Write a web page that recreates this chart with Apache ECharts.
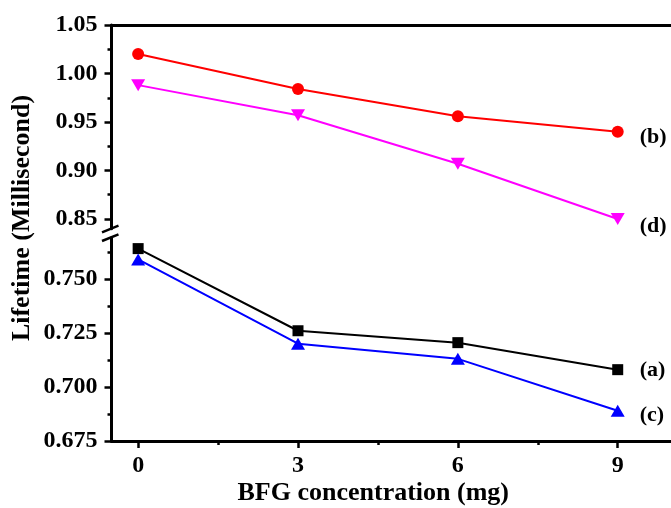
<!DOCTYPE html>
<html>
<head>
<meta charset="utf-8">
<script src="https://cdn.jsdelivr.net/npm/echarts@6/dist/echarts.min.js"></script>
<style>
  html, body { margin: 0; padding: 0; background: #fff; }
  #chart { width: 671px; height: 508px; }
</style>
</head>
<body>
<div id="chart"></div>
<script>
// BFG concentration (mg)
const concentration = [0, 3, 6, 9];
// lifetime (ms) per curve
const seriesA = [0.764, 0.726, 0.7205, 0.708];
const seriesB = [1.020, 0.984, 0.956, 0.940];
const seriesC = [0.759, 0.720, 0.713, 0.689];
const seriesD = [0.988, 0.957, 0.907, 0.850];

const xTicks = [0, 3, 6, 9];
const xMinor = [1.5, 4.5, 7.5];
const upperTicks = [0.85, 0.90, 0.95, 1.00, 1.05];
const upperMinor = [0.875, 0.925, 0.975, 1.025];
const lowerTicks = [0.675, 0.700, 0.725, 0.750];
const lowerMinor = [0.6875, 0.7125, 0.7375, 0.7625];

const FONT = '"Liberation Serif", "Times New Roman", serif';
const pts = arr => concentration.map((x, i) => [x, arr[i]]);

const chart = echarts.init(document.getElementById('chart'));

const axisLine = { show: true, onZero: false, lineStyle: { color: '#000', width: 3 } };
const tickLabel = { fontFamily: FONT, fontWeight: 'bold', fontSize: 24, color: '#000' };

function minorY(gridIndex, min, max, values) {
  return {
    type: 'value', gridIndex, position: 'left', min, max,
    axisLine: { show: false, onZero: false },
    axisTick: { show: true, customValues: values, length: 4, lineStyle: { color: '#000', width: 2.5 } },
    axisLabel: { show: false },
    splitLine: { show: false }
  };
}

function lineSeries(name, data, color, symbol, size, rotate, xi, yi, label, dy) {
  return {
    name, type: 'line', xAxisIndex: xi, yAxisIndex: yi,
    data: pts(data),
    symbol, symbolSize: size, symbolRotate: rotate,
    lineStyle: { color, width: 2 },
    itemStyle: { color },
    endLabel: {
      show: true, formatter: label, distance: 22, offset: [0, dy],
      fontFamily: FONT, fontWeight: 'bold', fontSize: 22, color: '#000'
    }
  };
}

chart.setOption({
  animation: false,
  backgroundColor: '#fff',
  grid: [
    { left: 111.5, top: 25, width: 564, height: 203.7 },
    { left: 111.5, top: 237.8, width: 564, height: 203.2 }
  ],
  xAxis: [
    {
      type: 'value', gridIndex: 0, position: 'top', min: -0.5, max: 10,
      axisLine, axisTick: { show: false }, axisLabel: { show: false }, splitLine: { show: false }
    },
    {
      type: 'value', gridIndex: 1, position: 'bottom', min: -0.5, max: 10,
      axisLine,
      axisTick: { show: true, customValues: xTicks, length: 7, lineStyle: { color: '#000', width: 2.5 } },
      axisLabel: Object.assign({ customValues: xTicks, margin: 13 }, tickLabel),
      splitLine: { show: false },
      name: 'BFG concentration (mg)', nameLocation: 'middle', nameGap: 39,
      nameTextStyle: { fontFamily: FONT, fontWeight: 'bold', fontSize: 26, color: '#000', padding: [0, 36, 0, 0] }
    },
    {
      type: 'value', gridIndex: 1, position: 'bottom', min: -0.5, max: 10,
      axisLine: { show: false, onZero: false },
      axisTick: { show: true, customValues: xMinor, length: 4, lineStyle: { color: '#000', width: 2.5 } },
      axisLabel: { show: false }, splitLine: { show: false }
    }
  ],
  yAxis: [
    {
      type: 'value', gridIndex: 0, position: 'left', min: 0.84, max: 1.05,
      axisLine,
      axisTick: { show: true, customValues: upperTicks, length: 7, lineStyle: { color: '#000', width: 2.5 } },
      axisLabel: Object.assign({ customValues: upperTicks, margin: 14, formatter: v => v.toFixed(2) }, tickLabel),
      splitLine: { show: false }
    },
    minorY(0, 0.84, 1.05, upperMinor),
    {
      type: 'value', gridIndex: 1, position: 'left', min: 0.675, max: 0.769,
      axisLine,
      axisTick: { show: true, customValues: lowerTicks, length: 7, lineStyle: { color: '#000', width: 2.5 } },
      axisLabel: Object.assign({ customValues: lowerTicks, margin: 14, formatter: v => v.toFixed(3) }, tickLabel),
      splitLine: { show: false }
    },
    minorY(1, 0.675, 0.769, lowerMinor)
  ],
  series: [
    lineSeries('a', seriesA, '#000000', 'rect', 11, 0, 1, 2, '(a)', 1),
    lineSeries('b', seriesB, '#ff0000', 'circle', 12, 0, 0, 0, '(b)', 6),
    lineSeries('c', seriesC, '#0000ff', 'triangle', [14, 12], 0, 1, 2, '(c)', 5),
    lineSeries('d', seriesD, '#ff00ff', 'triangle', [14, 12], 180, 0, 0, '(d)', 7)
  ],
  graphic: [
    // axis break marks
    { type: 'line', shape: { x1: 102, y1: 232.3, x2: 118.5, y2: 225.7 }, style: { stroke: '#000', lineWidth: 2.5 } },
    { type: 'line', shape: { x1: 102, y1: 241, x2: 118.5, y2: 234.3 }, style: { stroke: '#000', lineWidth: 2.5 } },
    {
      type: 'text', x: 22, y: 218, rotation: Math.PI / 2,
      style: {
        text: 'Lifetime (Millisecond)', fontFamily: FONT, fontWeight: 'bold', fontSize: 26,
        fill: '#000', align: 'center', verticalAlign: 'middle'
      }
    }
  ]
});
</script>
</body>
</html>
